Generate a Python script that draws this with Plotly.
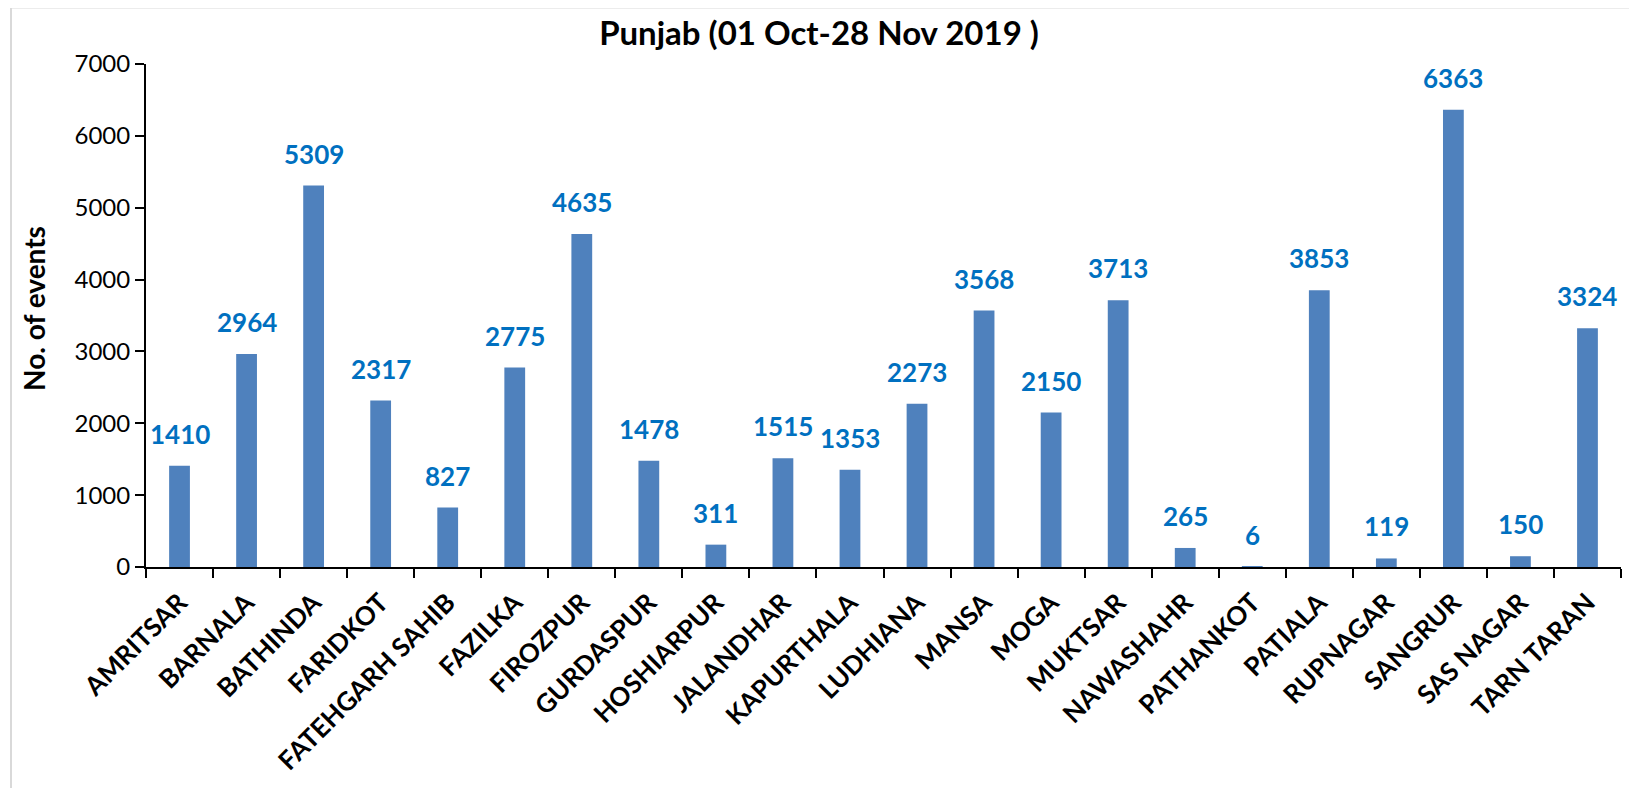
import plotly.graph_objects as go

districts = ["AMRITSAR", "BARNALA", "BATHINDA", "FARIDKOT", "FATEHGARH SAHIB", "FAZILKA",
             "FIROZPUR", "GURDASPUR", "HOSHIARPUR", "JALANDHAR", "KAPURTHALA", "LUDHIANA",
             "MANSA", "MOGA", "MUKTSAR", "NAWASHAHR", "PATHANKOT", "PATIALA", "RUPNAGAR",
             "SANGRUR", "SAS NAGAR", "TARN TARAN"]
events = [1410, 2964, 5309, 2317, 827, 2775, 4635, 1478, 311, 1515, 1353, 2273,
          3568, 2150, 3713, 265, 6, 3853, 119, 6363, 150, 3324]
y_ticks = [0, 1000, 2000, 3000, 4000, 5000, 6000, 7000]

FONT = "Lato"
W, H = 1629, 780  # page body has an 8px margin
L, T, B, R = 138, 56, 221, 16
PW, PH = W - L - R, H - T - B

fig = go.Figure()
fig.add_trace(go.Bar(
    x=districts, y=events,
    marker=dict(color="#4F81BD", line=dict(width=0)),
    width=0.31,
    hoverinfo="x+y",
))

for d, v in zip(districts, events):
    fig.add_annotation(x=d, y=v, text=f"<b>{v}</b>", showarrow=False,
                       yanchor="bottom", yshift=14,
                       font=dict(family=FONT, size=26, color="#0070C0"))

fig.add_annotation(xref="paper", yref="paper",
                   x=(34 - 8 - L) / PW, y=(H - B - (309 - 8)) / PH,
                   text="<b>No. of events</b>", textangle=-90, showarrow=False,
                   xanchor="center", yanchor="middle",
                   font=dict(family=FONT, size=28, color="black"))

fig.update_layout(
    width=W, height=H,
    margin=dict(l=L, r=R, t=T, b=B),
    paper_bgcolor="white", plot_bgcolor="white",
    showlegend=False,
    title=dict(text="<b>Punjab (01 Oct-28 Nov 2019 )</b>", x=811 / W, xanchor="center",
               y=1 - 25 / H, yanchor="middle",
               font=dict(family=FONT, size=33, color="black")),
    font=dict(family=FONT, color="black"),
    xaxis=dict(
        type="category", range=[-0.5, len(districts) - 0.5],
        showline=True, linecolor="black", linewidth=2,
        ticks="outside", tickson="boundaries", ticklen=9, tickwidth=2, tickcolor="black",
        tickangle=-45, tickfont=dict(family=FONT, size=26, color="black"),
        ticklabelstandoff=8,
        showgrid=False, zeroline=False, automargin=False,
        tickvals=districts, ticktext=[f"<b>{d}</b>" for d in districts],
    ),
    yaxis=dict(
        range=[0, 7000], tickvals=y_ticks,
        showline=True, linecolor="black", linewidth=2,
        ticks="outside", ticklen=9, tickwidth=2, tickcolor="black",
        tickfont=dict(family=FONT, size=24, color="black"),
        showgrid=False, zeroline=False, automargin=False,
    ),
    shapes=[
        dict(type="line", xref="paper", yref="paper",
             x0=(3 - L) / PW, x1=1.2, y0=(H - B) / PH + 0.001, y1=(H - B) / PH + 0.001,
             line=dict(color="#D9D9D9", width=2)),
        dict(type="line", xref="paper", yref="paper",
             x0=(3 - L) / PW, x1=(3 - L) / PW, y0=-0.5, y1=(H - B) / PH,
             line=dict(color="#D9D9D9", width=2)),
    ],
)

fig.write_html("out.html")
